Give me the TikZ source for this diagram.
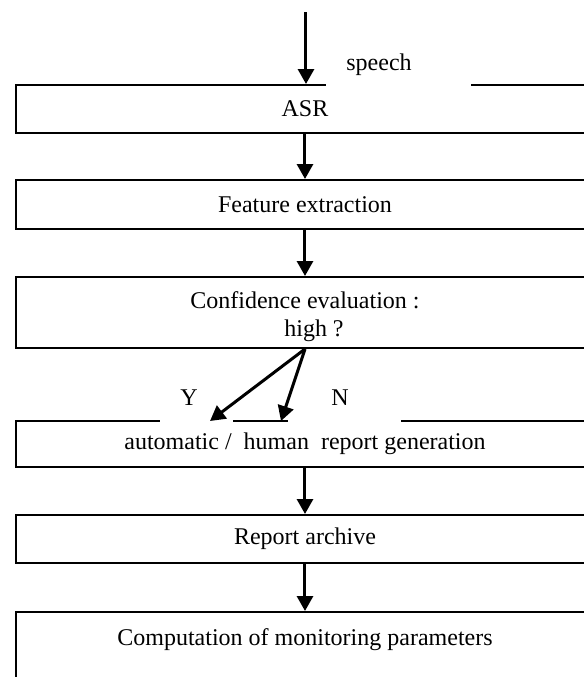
\documentclass[tikz,border=0pt]{standalone}
\usepackage{fontspec}
\setmainfont{Liberation Serif}
\usetikzlibrary{arrows.meta}

\begin{document}
\begin{tikzpicture}[x=0.5pt,y=-0.5pt,
  font=\fontsize{12}{14}\selectfont,
  stage/.style={draw,line width=1pt,minimum width=289pt,inner sep=0pt,align=center},
  flow/.style={line width=1.5pt,-{Triangle[width=8pt,length=7.5pt]}},
  gap/.style={fill=white,inner ysep=1pt,text depth=8pt,anchor=base west,align=left}]
\useasboundingbox (0,0) rectangle (584,677);
\clip (0,0) rectangle (584,677);

% Stages
\node[stage,minimum height=24pt] (asr) at (305,109) {ASR};
\node[stage,minimum height=24.5pt] (feat) at (305,204.5) {Feature extraction};
\node[stage,minimum height=35.5pt] (conf) at (305,312.5) {\rule{0pt}{13pt}Confidence evaluation :\\\hspace*{9pt}high ?};
\node[stage,minimum height=23pt] (gen) at (305,444) {automatic /\ \ human\ \ report generation};
\node[stage,minimum height=24pt] (arch) at (305,539) {Report archive};
\node[stage,anchor=north,text height=12pt,text depth=30pt,inner ysep=4.5pt] (comp) at (305,611) {Computation of monitoring parameters};

% Labels on the lines
\node[gap,inner xsep=10pt,text width=52.5pt] (speech) at (326,70) {speech};
\node[gap,inner xsep=10pt,text width=16.5pt] (yes) at (160,405) {Y};
\node[gap,inner xsep=21.5pt,text width=13.5pt] (no) at (288,405) {N};

% Connectors
\coordinate (input) at (306,12);
\coordinate (toauto) at (210,421);
\coordinate (tohuman) at (281,421);
\draw[flow] (input) -- (input |- asr.north);
\draw[flow] (asr) -- (feat);
\draw[flow] (feat) -- (conf);
\draw[flow] (conf.south) -- (toauto);
\draw[flow] (conf.south) -- (tohuman);
\draw[flow] (gen) -- (arch);
\draw[flow] (arch) -- (comp);
\end{tikzpicture}
\end{document}
